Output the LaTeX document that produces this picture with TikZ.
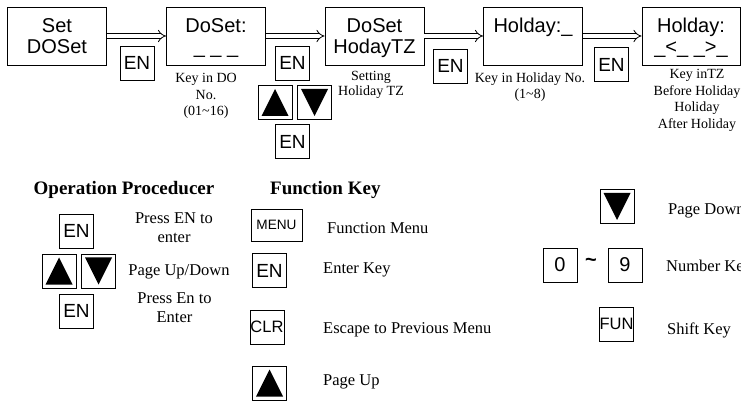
\documentclass[tikz,border=0pt]{standalone}
\usepackage{fontspec}
\setmainfont{Liberation Serif}
\newfontfamily\arial{Liberation Sans}
\usetikzlibrary{arrows.meta}
\newcommand\boxlines[2]{\rule{0pt}{14.6pt}#1\\\smash{#2}\rule[-1pt]{0pt}{1pt}}
\begin{document}
\begin{tikzpicture}[x=1pt,y=-1pt,
    menubox/.style={draw,line width=0.8pt,minimum width=99pt,minimum height=58pt,
        inner sep=0pt,align=center,font=\arial\fontsize{20}{21}\selectfont},
    keybox/.style={draw,line width=0.8pt,minimum width=34pt,minimum height=34pt,
        inner sep=0pt,font=\arial\fontsize{19}{19}\selectfont},
    upkey/.style={keybox,path picture={\fill
        ([xshift=3.5pt,yshift=3.5pt]path picture bounding box.south west) --
        ([xshift=-3.5pt,yshift=3.5pt]path picture bounding box.south east) --
        ([yshift=-3.5pt]path picture bounding box.north) -- cycle;}},
    downkey/.style={keybox,path picture={\fill
        ([xshift=3.5pt,yshift=-3.5pt]path picture bounding box.north west) --
        ([xshift=-3.5pt,yshift=-3.5pt]path picture bounding box.north east) --
        ([yshift=3.5pt]path picture bounding box.south) -- cycle;}},
    note/.style={inner sep=0pt,align=center,font=\fontsize{14}{16.5}\selectfont},
    legend/.style={inner sep=0pt,align=center,font=\fontsize{16.5}{19}\selectfont},
    heading/.style={inner sep=0pt,font=\bfseries\fontsize{19}{19}\selectfont},
    menuarrow/.style={double,double distance=3.5pt,line width=0.8pt,-{Implies}}]
        \useasboundingbox (0,0) rectangle (741,403);
        %% Menu chain
        \node[menubox] (setdo) at (57,36) {\boxlines{Set}{DOSet}};
        \node[menubox] (doset) at (216,36) {\boxlines{DoSet:}{\_ \_ \_}};
        \node[menubox] (dotz) at (374.5,36) {\boxlines{DoSet}{HodayTZ}};
        \node[menubox] (holno) at (533,36) {\boxlines{Holday:\_}{}};
        \node[menubox,minimum width=98pt] (holtz) at (691,36)
            {\boxlines{Holday:}{\_<\_ \_>\_}};
        \draw[menuarrow] (setdo) -- (doset);
        \draw[menuarrow] (doset) -- (dotz);
        \draw[menuarrow] (dotz) -- (holno);
        \draw[menuarrow] (holno) -- (holtz);
        %% Keys between the menus
        \node[keybox] (en1) at (137,63) {EN};
        \node[keybox] (en2) at (292.5,63) {EN};
        \node[upkey] (up2) at (275,102.5) {};
        \node[downkey] (down2) at (314.5,102.5) {};
        \node[keybox] (en2b) at (292.5,141.5) {EN};
        \node[keybox] (en3) at (450.5,66) {EN};
        \node[keybox] (en4) at (611.5,64.5) {EN};
        %% Notes under the menus
        \node[note,anchor=north] (notedo) at (206,73.5)
            {Key in DO\\No.\\(01\textasciitilde16)};
        \node[note,anchor=north,font=\fontsize{14}{14.5}\selectfont] (notetz) at (371,71.5)
            {Setting\\Holiday TZ};
        \node[note,anchor=north] (noteno) at (530,72.5)
            {Key in Holiday No.\\(1\textasciitilde8)};
        \node[note,anchor=north] (notetime) at (697,69.5)
            {Key inTZ\\Before Holiday\\Holiday\\After Holiday};
        %% Operation procedure
        \node[heading,anchor=base] (ophead) at (124,195) {Operation Proceducer};
        \node[keybox] (openter) at (76.5,231) {EN};
        \node[upkey] (opup) at (59,271) {};
        \node[downkey] (opdown) at (98.5,271) {};
        \node[keybox] (opconfirm) at (76.5,311) {EN};
        \node[legend,anchor=north] (optxt1) at (174,212) {Press EN to\\enter};
        \node[legend,anchor=base] (optxt2) at (179,276) {Page Up/Down};
        \node[legend,anchor=north] (optxt3) at (174.5,292) {Press En to\\Enter};
        %% Function keys
        \node[heading,anchor=base west] (fnhead) at (270,195) {Function Key};
        \node[keybox,minimum width=51pt,minimum height=32pt,
            font=\arial\fontsize{13.6}{14}\selectfont] (kmenu) at (276.5,225) {MENU};
        \node[legend,anchor=base west] (tmenu) at (327,234) {Function Menu};
        \node[keybox] (kenter) at (269.5,270.5) {EN};
        \node[legend,anchor=base west] (tenter) at (323,273) {Enter Key};
        \node[keybox,font=\arial\fontsize{16.5}{17}\selectfont] (kclr) at (267,327) {CLR};
        \node[legend,anchor=base west] (tclr) at (323,333) {Escape to Previous Menu};
        \node[upkey] (kup) at (269.5,383) {};
        \node[legend,anchor=base west] (tup) at (323,385) {Page Up};
        \node[downkey] (kdown) at (617,206.5) {};
        \node[legend,anchor=base west] (tdown) at (668,215) {Page Down};
        \node[keybox,font=\arial\fontsize{20}{20}\selectfont] (kzero) at (560,265) {0};
        \node[inner sep=0pt,font=\arial\bfseries\fontsize{20}{20}\selectfont]
            (tilde) at (591,262) {\textasciitilde};
        \node[keybox,font=\arial\fontsize{20}{20}\selectfont] (knine) at (625,265) {9};
        \node[legend,anchor=base west] (tnum) at (666,272) {Number Key};
        \node[keybox,font=\arial\fontsize{16.5}{17}\selectfont] (kfun) at (616.5,324) {FUN};
        \node[legend,anchor=base west] (tfun) at (667,334) {Shift Key};
\end{tikzpicture}
\end{document}
